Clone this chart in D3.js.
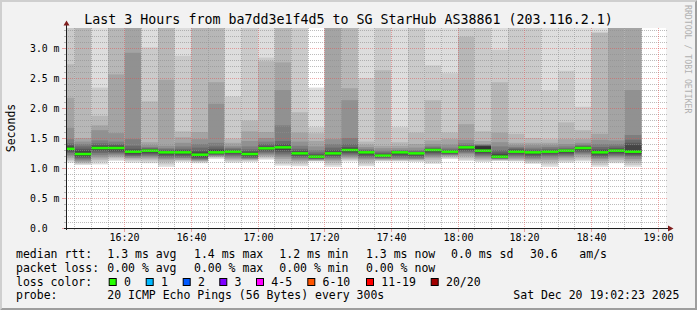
<!DOCTYPE html>
<html>
<head>
<meta charset="utf-8">
<script src="https://cdn.jsdelivr.net/npm/d3@7"></script>
<style>
  body { margin: 0; background: #fff; }
  svg text { font-family: "DejaVu Sans Mono", monospace; white-space: pre; }
</style>
</head>
<body>
<div id="chart"></div>
<script>
// 5 minute slots (start time), 20 pings each, sorted, in ms
const slotStart = ['16:00','16:05','16:10','16:15','16:20','16:25','16:30','16:35','16:40','16:45',
  '16:50','16:55','17:00','17:05','17:10','17:15','17:20','17:25','17:30','17:35',
  '17:40','17:45','17:50','17:55','18:00','18:05','18:10','18:15','18:20','18:25',
  '18:30','18:35','18:40','18:45','18:50'];

const pings = [
  [1.09,1.12,1.14,1.17,1.20,1.22,1.25,1.27,1.29,1.31,1.34,1.36,1.38,1.41,1.48,1.67,2.17,2.73,3.40,3.60],
  [1.05,1.07,1.08,1.10,1.12,1.14,1.16,1.18,1.20,1.22,1.25,1.29,1.32,1.36,1.40,1.44,1.50,3.40,3.50,3.60],
  [1.06,1.10,1.13,1.16,1.19,1.22,1.25,1.28,1.30,1.32,1.35,1.36,1.38,1.41,1.46,1.63,1.71,1.87,2.34,3.50],
  [1.12,1.14,1.17,1.19,1.21,1.23,1.25,1.27,1.29,1.32,1.345,1.36,1.38,1.40,1.44,1.58,2.56,3.40,3.50,3.70],
  [1.09,1.12,1.14,1.16,1.17,1.19,1.20,1.22,1.24,1.26,1.285,1.30,1.32,1.37,1.48,2.92,3.50,3.60,3.70,3.80],
  [1.08,1.11,1.14,1.16,1.18,1.20,1.22,1.24,1.26,1.28,1.30,1.31,1.32,1.33,1.35,1.38,1.43,2.11,3.01,3.50],
  [1.02,1.06,1.10,1.13,1.15,1.17,1.19,1.21,1.23,1.25,1.27,1.28,1.29,1.31,1.33,1.37,2.47,3.40,3.60,3.70],
  [1.10,1.12,1.13,1.14,1.16,1.17,1.19,1.21,1.23,1.25,1.27,1.285,1.30,1.32,1.36,1.42,1.51,1.61,2.87,3.50],
  [1.08,1.10,1.11,1.12,1.13,1.14,1.15,1.17,1.19,1.21,1.235,1.26,1.29,1.34,1.40,1.48,1.60,3.50,3.60,3.70],
  [1.15,1.17,1.18,1.19,1.20,1.21,1.22,1.23,1.24,1.25,1.275,1.30,1.32,1.36,1.42,2.07,2.43,3.50,3.60,3.70],
  [1.09,1.11,1.13,1.15,1.17,1.19,1.21,1.23,1.25,1.265,1.28,1.29,1.30,1.32,1.34,1.37,1.42,1.49,2.19,3.50],
  [1.10,1.12,1.13,1.14,1.15,1.16,1.17,1.19,1.21,1.225,1.245,1.26,1.28,1.31,1.36,1.45,1.61,1.79,3.40,3.60],
  [1.14,1.16,1.18,1.20,1.22,1.24,1.26,1.28,1.30,1.32,1.34,1.35,1.37,1.40,1.44,1.50,1.60,2.78,2.84,3.50],
  [1.04,1.07,1.11,1.15,1.18,1.21,1.24,1.27,1.30,1.33,1.355,1.37,1.40,1.45,1.71,2.30,2.76,3.60,3.70,3.80],
  [1.03,1.06,1.10,1.12,1.14,1.16,1.18,1.20,1.22,1.235,1.255,1.27,1.29,1.32,1.37,1.44,1.59,1.93,3.40,3.60],
  [1.11,1.115,1.12,1.13,1.14,1.145,1.15,1.16,1.17,1.18,1.20,1.21,1.23,1.26,1.30,1.36,1.45,1.58,1.68,2.34],
  [1.02,1.05,1.09,1.12,1.14,1.16,1.18,1.20,1.22,1.235,1.255,1.27,1.30,1.34,1.40,1.48,3.50,3.60,3.70,3.80],
  [1.11,1.13,1.15,1.17,1.19,1.21,1.23,1.25,1.27,1.29,1.315,1.33,1.35,1.40,1.50,2.13,2.33,3.50,3.60,3.70],
  [1.03,1.06,1.10,1.13,1.15,1.17,1.19,1.21,1.23,1.25,1.27,1.275,1.285,1.30,1.32,1.35,1.39,1.44,2.50,3.50],
  [1.11,1.12,1.13,1.14,1.15,1.16,1.17,1.18,1.19,1.20,1.215,1.225,1.24,1.26,1.29,1.33,1.37,2.63,3.40,3.60],
  [1.11,1.12,1.13,1.14,1.15,1.17,1.19,1.21,1.23,1.25,1.27,1.275,1.28,1.29,1.30,1.33,1.37,1.43,1.68,3.50],
  [1.10,1.12,1.13,1.14,1.15,1.16,1.18,1.20,1.22,1.235,1.25,1.255,1.265,1.28,1.30,1.34,1.40,1.59,3.40,3.60],
  [1.07,1.10,1.14,1.17,1.19,1.21,1.23,1.25,1.27,1.29,1.31,1.315,1.325,1.34,1.36,1.40,1.46,2.13,2.71,3.50],
  [1.15,1.165,1.18,1.20,1.21,1.22,1.23,1.24,1.25,1.265,1.28,1.29,1.30,1.31,1.34,1.39,1.48,1.59,2.58,3.50],
  [1.12,1.14,1.17,1.20,1.23,1.25,1.27,1.29,1.31,1.335,1.35,1.355,1.365,1.38,1.41,1.47,1.73,3.19,3.40,3.60],
  [1.10,1.12,1.14,1.16,1.18,1.20,1.22,1.24,1.26,1.28,1.36,1.365,1.37,1.38,1.39,1.40,1.45,1.61,3.40,3.60],
  [1.12,1.125,1.13,1.14,1.15,1.155,1.16,1.17,1.18,1.19,1.21,1.23,1.26,1.30,1.36,1.43,1.59,2.43,2.97,3.50],
  [1.11,1.12,1.13,1.15,1.17,1.19,1.21,1.23,1.25,1.265,1.29,1.30,1.31,1.33,1.35,1.38,1.42,1.57,3.40,3.60],
  [1.07,1.09,1.11,1.13,1.15,1.17,1.19,1.21,1.23,1.25,1.27,1.28,1.29,1.31,1.34,1.38,1.42,1.50,3.40,3.60],
  [1.02,1.06,1.10,1.13,1.16,1.19,1.21,1.23,1.25,1.265,1.28,1.29,1.30,1.32,1.35,1.38,1.42,1.48,2.29,3.50],
  [1.09,1.11,1.13,1.16,1.18,1.20,1.22,1.24,1.26,1.28,1.295,1.30,1.31,1.33,1.36,1.40,1.48,1.76,2.62,3.50],
  [1.11,1.13,1.16,1.19,1.22,1.24,1.26,1.28,1.30,1.325,1.34,1.35,1.36,1.37,1.39,1.42,1.48,1.63,2.02,3.50],
  [1.02,1.05,1.09,1.12,1.15,1.17,1.19,1.21,1.23,1.25,1.275,1.29,1.31,1.35,1.40,1.47,1.57,3.25,3.27,3.50],
  [1.08,1.10,1.13,1.16,1.18,1.20,1.22,1.24,1.26,1.28,1.30,1.31,1.33,1.36,1.40,1.46,3.50,3.60,3.70,3.80],
  [1.02,1.05,1.09,1.12,1.15,1.18,1.20,1.22,1.24,1.26,1.30,1.38,1.42,1.47,1.55,2.30,3.50,3.60,3.70,3.80]
];

const median = [1.32,1.233,1.333,1.333,1.272,1.289,1.261,1.261,1.222,1.261,
  1.272,1.233,1.328,1.344,1.244,1.189,1.244,1.3,1.261,1.206,
  1.261,1.244,1.3,1.272,1.344,1.289,1.189,1.272,1.261,1.272,
  1.289,1.333,1.261,1.289,1.272];

const yTicks = [0, 0.5, 1, 1.5, 2, 2.5, 3];
const xTickLabels = ['16:20','16:40','17:00','17:20','17:40','18:00','18:20','18:40','19:00'];

const lossLabels = ['0','1','2','3','4-5','6-10','11-19','20/20'];
const lossColors = ['#26ff00','#00b8ff','#0059ff','#7e00ff','#ff00ff','#ff5500','#ff0000','#a10000'];
const smokeGrays = ['#dddddd','#cacaca','#b7b7b7','#a4a4a4','#919191','#7e7e7e','#6b6b6b','#585858','#454545','#323232'];

const statsRtt = ['median rtt:','1.3 ms avg','1.4 ms max','1.2 ms min','1.3 ms now','0.0 ms sd','30.6','am/s'];
const statsLoss = ['packet loss:','0.00 % avg','0.00 % max','0.00 % min','0.00 % now'];
const probeRow = ['probe:','20 ICMP Echo Pings (56 Bytes) every 300s','Sat Dec 20 19:02:23 2025'];

const width = 697, height = 310;
const plot = { left: 66, top: 28, right: 666, bottom: 228 };
const parse = d3.utcParse('%Y-%m-%d %H:%M:%S');
const day = '2025-12-20 ';

const x = d3.scaleUtc()
  .domain([parse(day + '16:02:23'), parse(day + '19:02:23')])
  .range([plot.left, plot.right]);
const y = d3.scaleLinear().domain([0, 10 / 3]).range([plot.bottom, plot.top]);

const svg = d3.select('#chart').append('svg')
  .attr('width', width).attr('height', height);

// background + bevel frame
svg.append('rect').attr('width', width).attr('height', height).attr('fill', '#f2f2f2');
svg.append('polygon').attr('points', '0,0 697,0 695,2 2,2 2,308 0,310').attr('fill', '#cfcfcf');
svg.append('polygon').attr('points', '697,0 697,310 0,310 2,308 695,308 695,2').attr('fill', '#9e9e9e');
svg.append('rect')
  .attr('x', plot.left).attr('y', plot.top)
  .attr('width', plot.right - plot.left).attr('height', plot.bottom - plot.top)
  .attr('fill', '#fff');

svg.append('clipPath').attr('id', 'clip').append('rect')
  .attr('x', plot.left).attr('y', plot.top)
  .attr('width', plot.right - plot.left).attr('height', plot.bottom - plot.top);

const slots = slotStart.map((s, i) => {
  const t0 = parse(day + s + ':00');
  return { t0: t0, t1: d3.utcMinute.offset(t0, 5), p: pings[i], med: median[i] };
});

// smoke
const smoke = svg.append('g').attr('clip-path', 'url(#clip)');
slots.forEach((d) => {
  smokeGrays.forEach((c, i) => {
    const lo = d.p[i], hi = d.p[19 - i];
    smoke.append('rect')
      .attr('x', x(d.t0)).attr('width', x(d.t1) - x(d.t0))
      .attr('y', y(hi)).attr('height', y(lo) - y(hi))
      .attr('fill', c);
  });
});

// median
smoke.selectAll('rect.med').data(slots).enter().append('rect')
  .attr('class', 'med')
  .attr('x', (d) => x(d.t0)).attr('width', (d) => x(d.t1) - x(d.t0))
  .attr('y', (d) => y(d.med) - 1.25).attr('height', 2.5)
  .attr('fill', lossColors[0]);

// grid (on top, like rrdtool)
const gridCol = 'rgba(143,143,143,0.6)';
const mgridCol = 'rgba(222,79,79,0.5)';
const grid = svg.append('g');
const yMinor = d3.range(0, 34).map((k) => k / 10);
yMinor.forEach((v) => {
  const major = Math.abs(v * 2 - Math.round(v * 2)) < 1e-6;
  const py = Math.round(y(v)) + 0.5;
  if (v > 0) {
    grid.append('line').attr('x1', plot.left).attr('x2', plot.right + 2)
      .attr('y1', py).attr('y2', py)
      .attr('stroke', major ? mgridCol : gridCol).attr('stroke-dasharray', '1,1');
  }
  grid.append('line').attr('x1', major ? plot.left - 4 : plot.left - 2).attr('x2', plot.left)
    .attr('y1', py).attr('y2', py)
    .attr('stroke', major ? mgridCol : gridCol);
});

const xMinor = d3.utcMinute.every(5).range(x.domain()[0], x.domain()[1]);
xMinor.forEach((t) => {
  const major = t.getUTCMinutes() % 20 === 0;
  const px = Math.floor(x(t)) + 0.5;
  grid.append('line').attr('x1', px).attr('x2', px)
    .attr('y1', plot.top).attr('y2', plot.bottom)
    .attr('stroke', major ? mgridCol : gridCol).attr('stroke-dasharray', '1,1');
  grid.append('line').attr('x1', px).attr('x2', px)
    .attr('y1', plot.bottom).attr('y2', plot.bottom + (major ? 4 : 2))
    .attr('stroke', major ? mgridCol : gridCol);
});

// axes
svg.append('line').attr('x1', plot.left - 2).attr('x2', plot.right + 4)
  .attr('y1', plot.bottom + 0.5).attr('y2', plot.bottom + 0.5).attr('stroke', '#1f1f1f');
svg.append('line').attr('x1', plot.left + 0.5).attr('x2', plot.left + 0.5)
  .attr('y1', plot.bottom + 2).attr('y2', plot.top - 3).attr('stroke', '#1f1f1f');
svg.append('polygon').attr('points', '668,225.5 673.5,228.5 668,231.5').attr('fill', '#801f1f');
svg.append('polygon').attr('points', '63.5,25.5 66.5,20.5 69.5,25.5').attr('fill', '#801f1f');

// y labels
svg.append('g').selectAll('text').data(yTicks).enter().append('text')
  .attr('x', 30).attr('y', (d) => y(d) + 3.8)
  .style('font-size', '9.8px')
  .text((d) => d === 0 ? '0.0' : d3.format('.1f')(d) + ' m');

// x labels
const xLabelTimes = xTickLabels.map((s) => parse(day + s + ':00'));
svg.append('g').selectAll('text').data(xLabelTimes).enter().append('text')
  .attr('x', (d) => Math.floor(x(d)) + 0.5).attr('y', 241)
  .attr('text-anchor', 'middle')
  .style('font-size', '10px')
  .text((d, i) => xTickLabels[i]);

// title, unit, watermark
svg.append('text').attr('x', 348.5).attr('y', 23.5).attr('text-anchor', 'middle')
  .style('font-size', '13.3px')
  .text('Last 3 Hours from ba7dd3e1f4d5 to SG StarHub AS38861 (203.116.2.1)');
svg.append('text').attr('transform', 'translate(15,128) rotate(-90)')
  .attr('text-anchor', 'middle').style('font-size', '11.5px').text('Seconds');
svg.append('text').attr('transform', 'translate(685,5) rotate(90)')
  .style('font-size', '8.2px').attr('fill', '#b0b0b0')
  .text('RRDTOOL / TOBI OETIKER');

// legend
const legend = svg.append('g').style('font-size', '11.5px');
const colX = [16, 107.3, 194, 279.3, 366, 451, 530, 579.3];
statsRtt.forEach((s, i) => legend.append('text').attr('x', colX[i]).attr('y', 258.3).text(s));
statsLoss.forEach((s, i) => legend.append('text').attr('x', colX[i]).attr('y', 271.7).text(s));
legend.append('text').attr('x', 16).attr('y', 285.5).text('loss color:');
const boxX = [108.7, 145.7, 182.7, 219.3, 256, 307.3, 366, 430.7];
lossLabels.forEach((l, i) => {
  legend.append('rect').attr('x', boxX[i] + 0.5).attr('y', 278.5).attr('width', 7).attr('height', 7)
    .attr('fill', lossColors[i]).attr('stroke', '#000');
  legend.append('text').attr('x', boxX[i] + 15.3).attr('y', 285.5).text(l);
});
const probeX = [16, 107.3, 513.3];
probeRow.forEach((s, i) => legend.append('text').attr('x', probeX[i]).attr('y', 299).text(s));
</script>
</body>
</html>
